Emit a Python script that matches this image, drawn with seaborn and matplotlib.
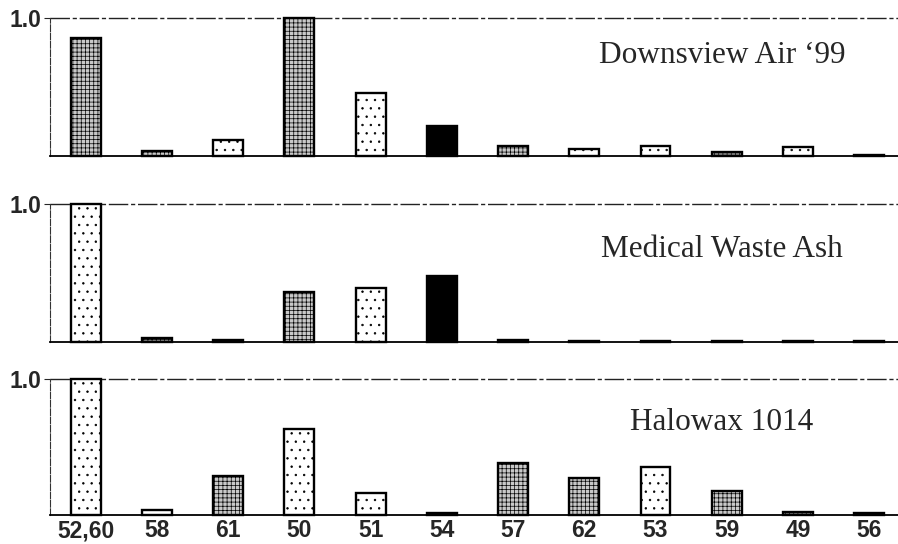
import numpy as np
import pandas as pd
import seaborn as sns
import matplotlib.pyplot as plt

# congener labels along the bottom
categories = ["52,60", "58", "61", "50", "51", "54", "57", "62", "53", "59", "49", "56"]

# relative abundance
downsview = [0.855, 0.035, 0.115, 1.0, 0.457, 0.217, 0.075, 0.05, 0.075, 0.03, 0.065, 0.01]
medical = [1.0, 0.03, 0.015, 0.36, 0.39, 0.48, 0.015, 0.01, 0.01, 0.01, 0.012, 0.01]
halowax = [1.0, 0.035, 0.285, 0.63, 0.165, 0.015, 0.385, 0.27, 0.355, 0.18, 0.02, 0.012]

# fill type of each bar (light stipple, grid, dark grid, black)
downsview_fill = ["grid", "grid", "light", "grid", "light", "black", "grid", "light", "light", "dark", "light", "dark"]
medical_fill = ["light", "dark", "dark", "grid", "light", "black", "dark", "dark", "dark", "dark", "dark", "dark"]
halowax_fill = ["light", "light", "grid", "light", "light", "dark", "grid", "grid", "light", "grid", "dark", "dark"]

panel_titles = ["Downsview Air \u201899", "Medical Waste Ash", "Halowax 1014"]

sns.set_style("white")
plt.rcParams["font.family"] = ["Liberation Sans", "DejaVu Sans"]
plt.rcParams["hatch.linewidth"] = 0.5

styles = {
    "light": dict(facecolor="white", hatch=".."),
    "grid": dict(facecolor="#c8c8c8", hatch="++++"),
    "dark": dict(facecolor="#888888", hatch="++++"),
    "black": dict(facecolor="black", hatch=None),
}

fig = plt.figure(figsize=(8.98, 5.44), dpi=100)

# axes boxes: [left, bottom, width, height] in figure fraction
boxes = [
    [0.0557, 0.713, 0.944, 0.254],
    [0.0557, 0.371, 0.944, 0.254],
    [0.0557, 0.0533, 0.944, 0.250],
]
series = [downsview, medical, halowax]
fills = [downsview_fill, medical_fill, halowax_fill]
title_y = [0.73, 0.67, 0.68]

for i, (box, vals, fill, title) in enumerate(zip(boxes, series, fills, panel_titles)):
    ax = fig.add_axes(box)
    df = pd.DataFrame({"congener": categories, "value": vals})
    sns.barplot(data=df, x="congener", y="value", order=categories, width=0.42,
                color="white", edgecolor="black", linewidth=1.7, errorbar=None,
                saturation=1, ax=ax)
    for patch, f in zip(ax.patches, fill):
        st = styles[f]
        patch.set_facecolor(st["facecolor"])
        patch.set_hatch(st["hatch"])
        patch.set_clip_on(False)
        patch.set_zorder(3)

    ax.set_xlim(-0.5, 11.4)
    ax.set_ylim(0, 1.0)
    ax.axhline(1.0, color="#222222", lw=1.0, ls=(0, (14, 2, 3, 2)), zorder=1, clip_on=False)

    for s in ["top", "right"]:
        ax.spines[s].set_visible(False)
    ax.spines["left"].set_linestyle((0, (6, 1.5)))
    ax.spines["left"].set_linewidth(0.8)
    ax.spines["left"].set_color("#333333")
    ax.spines["bottom"].set_linewidth(1.3)
    ax.spines["bottom"].set_color("black")

    ax.set_yticks([1.0])
    ax.set_yticklabels(["1.0"], fontsize=16.5, fontweight="bold")
    ax.tick_params(axis="y", left=True, length=4, width=0.8, pad=2)
    ax.tick_params(axis="x", bottom=False, length=0, pad=3)
    if i < 2:
        ax.set_xticklabels([])
    else:
        ax.set_xticks(range(len(categories)))
        ax.set_xticklabels(categories, fontsize=16.5, fontweight="bold")
    ax.set_xlabel("")
    ax.set_ylabel("")

    ax.text(8.93, title_y[i], title, ha="center", va="center", fontsize=22.5,
            family=["Liberation Serif", "DejaVu Serif"])

fig.savefig("out.png", dpi=100)
